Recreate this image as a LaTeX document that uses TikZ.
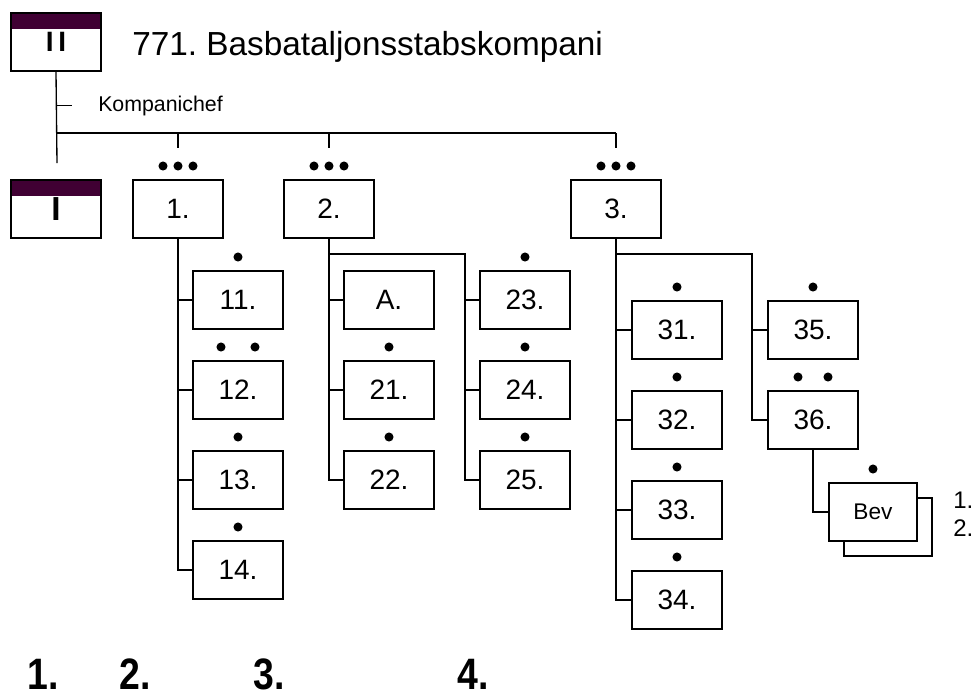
\documentclass[tikz,border=0pt]{standalone}
\usepackage{fontspec}
\setmainfont{Liberation Sans}
\usetikzlibrary{positioning,calc}
\definecolor{hqband}{RGB}{64,0,51}
\frenchspacing
\tikzset{
    unit/.style =   {rectangle,
                    fill=white,
                    draw=black,
                    text=black,
                    line width=1.5pt,
                    minimum width=67.5pt,
                    minimum height=43.5pt,
                    font=\fontsize{21}{21}\selectfont},
    staff/.style =  {unit,
                    font=\bfseries,
                    path picture={\fill[hqband] (path picture bounding box.north west)
                        rectangle ([yshift=-12pt]path picture bounding box.north east);}},
    reserve/.style = {unit,
                    minimum width=66pt,
                    font=\fontsize{17}{17}\selectfont},
    link/.style =   {draw=black,
                    line width=1pt},
    dotmark/.style = {fill=black},
    tag/.style =    {anchor=base west,
                    inner sep=0pt},
    colnum/.style = {tag,
                    font=\bfseries\fontsize{33}{33}\selectfont},
    -,
    node distance=22.5pt}

\begin{document}
\begin{tikzpicture}[x=0.75pt,y=-0.75pt]
    \useasboundingbox (0,0) rectangle (978,697);
    % staff and heading
    \node[staff,font=\bfseries\fontsize{21}{21}\selectfont] (bII) at (56,42) {I\,I};
    \node[tag,font=\fontsize{25}{25}\selectfont] (name) at (132,55) {771. Basbataljonsstabskompani};
    \node[tag,font=\fontsize{16}{16}\selectfont] (chef) at (98,111) {Kompanichef};
    \node[staff,font=\bfseries\fontsize{25}{25}\selectfont] (bI) at (56,209) {I};
    \coordinate (stem) at (57,163);
    \coordinate (bus) at (57,133);
    % platoons
    \node[unit] (b1) at (178,209) {1.};
    \node[unit] (b2) at (329,209) {2.};
    \node[unit] (b3) at (616,209) {3.};
    % sections, first platoon
    \node[unit]         (b11) at (238,300)       {11.};
    \node[unit]         (b12) [below=of b11]     {12.};
    \node[unit]         (b13) [below=of b12]     {13.};
    \node[unit]         (b14) [below=of b13]     {14.};
    % sections, second platoon
    \node[unit]         (bA)  at (389,300)       {A.};
    \node[unit]         (b21) [below=of bA]      {21.};
    \node[unit]         (b22) [below=of b21]     {22.};
    \node[unit]         (b23) at (525,300)       {23.};
    \node[unit]         (b24) [below=of b23]     {24.};
    \node[unit]         (b25) [below=of b24]     {25.};
    % sections, third platoon
    \node[unit]         (b31) at (677,330)       {31.};
    \node[unit]         (b32) [below=of b31]     {32.};
    \node[unit]         (b33) [below=of b32]     {33.};
    \node[unit]         (b34) [below=of b33]     {34.};
    \node[unit]         (b35) at (813,330)       {35.};
    \node[unit]         (b36) [below=of b35]     {36.};
    \node[reserve]      (bevb) at (888,527)      {};
    \node[reserve]      (bev) at (873,512)       {Bev};
    \node[tag,font=\fontsize{18}{18}\selectfont] (r1) at (953,508) {1.};
    \node[tag,font=\fontsize{18}{18}\selectfont] (r2) at (953,536) {2.};
    % connectors
    \draw[link] (bII.south) -- (stem);
    \draw[link] (bII.south |- chef.west) -- ([xshift=-19.5pt]chef.west);
    \draw[link] (bus) -- (bus -| b3.north);
    \foreach \n in {b1,b2,b3}
        \draw[link] (bus -| \n.north) -- ([yshift=23.25pt]\n.north);
    \draw[link] (b1.south) |- (b14.west);
    \foreach \n in {b11,b12,b13}
        \draw[link] (b1.south |- \n.west) -- (\n.west);
    \coordinate (s2) at (465,254);
    \draw[link] (b2.south) |- (b22.west);
    \foreach \n in {bA,b21}
        \draw[link] (b2.south |- \n.west) -- (\n.west);
    \draw[link] (b2.south |- s2) -- (s2) |- (b25.west);
    \foreach \n in {b23,b24}
        \draw[link] (s2 |- \n.west) -- (\n.west);
    \coordinate (s3) at (752,254);
    \draw[link] (b3.south) |- (b34.west);
    \foreach \n in {b31,b32,b33}
        \draw[link] (b3.south |- \n.west) -- (\n.west);
    \draw[link] (b3.south |- s3) -- (s3) |- (b36.west);
    \draw[link] (s3 |- b35.west) -- (b35.west);
    \draw[link] (b36.south) |- (bev.west);
    % size marks
    \foreach \n in {b1,b2,b3}
        \foreach \dx in {-11.25,0,11.25}
            \fill[dotmark] ([xshift=\dx pt,yshift=9.75pt]\n.north) circle (3.4pt);
    \foreach \n in {b11,b13,b14,b21,b22,b23,b24,b25,b31,b32,b33,b34,b35,bev}
        \fill[dotmark] ([yshift=9.75pt]\n.north) circle (3.4pt);
    \foreach \dx in {-12.75,12.75}
        \fill[dotmark] ([xshift=\dx pt,yshift=9.75pt]b12.north) circle (3.4pt);
    \foreach \dx in {-11.25,11.25}
        \fill[dotmark] ([xshift=\dx pt,yshift=9.75pt]b36.north) circle (3.4pt);
    % column numbers
    \node[colnum] (c1) at (27,689)  {\scalebox{0.85}[1]{1.}};
    \node[colnum] (c2) at (119,689) {\scalebox{0.85}[1]{2.}};
    \node[colnum] (c3) at (253,689) {\scalebox{0.85}[1]{3.}};
    \node[colnum] (c4) at (457,689) {\scalebox{0.85}[1]{4.}};
\end{tikzpicture}
\end{document}
